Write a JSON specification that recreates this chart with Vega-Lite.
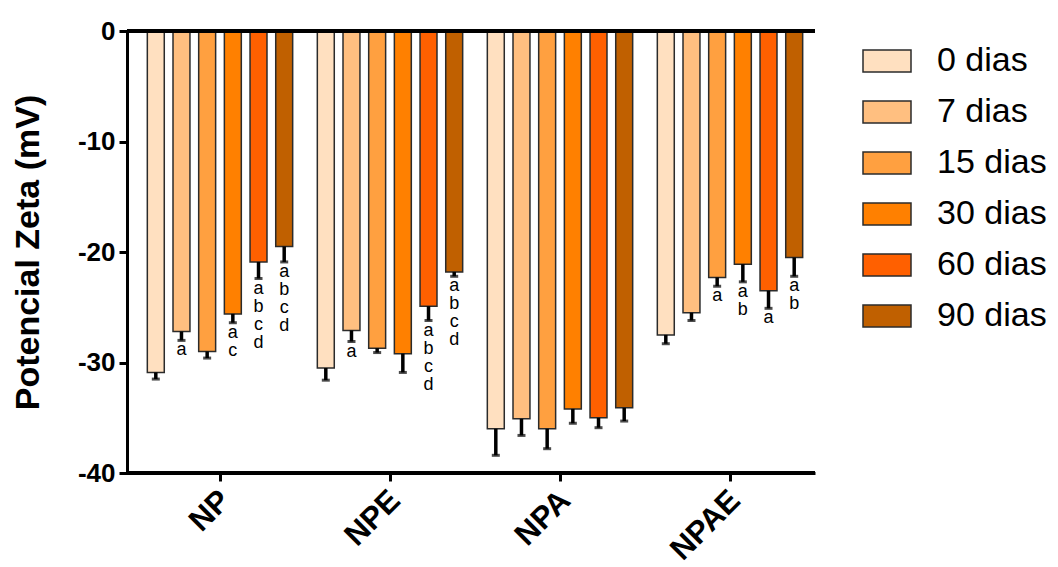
{
  "$schema": "https://vega.github.io/schema/vega-lite/v6.json",
  "autosize": {"type": "none"},
  "padding": {"left": 127, "top": 31, "right": 243, "bottom": 94},
  "width": 688,
  "height": 442,
  "background": "white",
  "config": {
    "font": "Liberation Sans",
    "view": {"stroke": null},
    "axis": {"grid": false, "domainColor": "black", "domainWidth": 3, "tickColor": "black", "tickWidth": 3, "tickSize": 8, "labelColor": "black", "titleColor": "black"}
  },
  "data": {
    "values": [
      {"grupo": "NP", "dia": "0 dias", "zeta": -30.9, "low": -31.5, "sig": ""},
      {"grupo": "NP", "dia": "7 dias", "zeta": -27.2, "low": -28.0, "sig": "a"},
      {"grupo": "NP", "dia": "15 dias", "zeta": -29.0, "low": -29.6, "sig": ""},
      {"grupo": "NP", "dia": "30 dias", "zeta": -25.6, "low": -26.4, "sig": "a\nc"},
      {"grupo": "NP", "dia": "60 dias", "zeta": -20.9, "low": -22.4, "sig": "a\nb\nc\nd"},
      {"grupo": "NP", "dia": "90 dias", "zeta": -19.5, "low": -20.9, "sig": "a\nb\nc\nd"},
      {"grupo": "NPE", "dia": "0 dias", "zeta": -30.5, "low": -31.6, "sig": ""},
      {"grupo": "NPE", "dia": "7 dias", "zeta": -27.1, "low": -28.1, "sig": "a"},
      {"grupo": "NPE", "dia": "15 dias", "zeta": -28.7, "low": -29.1, "sig": ""},
      {"grupo": "NPE", "dia": "30 dias", "zeta": -29.2, "low": -30.9, "sig": ""},
      {"grupo": "NPE", "dia": "60 dias", "zeta": -24.9, "low": -26.2, "sig": "a\nb\nc\nd"},
      {"grupo": "NPE", "dia": "90 dias", "zeta": -21.8, "low": -22.2, "sig": "a\nb\nc\nd"},
      {"grupo": "NPA", "dia": "0 dias", "zeta": -36.0, "low": -38.4, "sig": ""},
      {"grupo": "NPA", "dia": "7 dias", "zeta": -35.1, "low": -36.6, "sig": ""},
      {"grupo": "NPA", "dia": "15 dias", "zeta": -36.0, "low": -37.8, "sig": ""},
      {"grupo": "NPA", "dia": "30 dias", "zeta": -34.2, "low": -35.5, "sig": ""},
      {"grupo": "NPA", "dia": "60 dias", "zeta": -35.0, "low": -35.9, "sig": ""},
      {"grupo": "NPA", "dia": "90 dias", "zeta": -34.1, "low": -35.3, "sig": ""},
      {"grupo": "NPAE", "dia": "0 dias", "zeta": -27.5, "low": -28.3, "sig": ""},
      {"grupo": "NPAE", "dia": "7 dias", "zeta": -25.5, "low": -26.2, "sig": ""},
      {"grupo": "NPAE", "dia": "15 dias", "zeta": -22.3, "low": -23.1, "sig": "a"},
      {"grupo": "NPAE", "dia": "30 dias", "zeta": -21.1, "low": -22.7, "sig": "a\nb"},
      {"grupo": "NPAE", "dia": "60 dias", "zeta": -23.5, "low": -25.1, "sig": "a"},
      {"grupo": "NPAE", "dia": "90 dias", "zeta": -20.5, "low": -22.2, "sig": "a\nb"}
    ]
  },
  "layer": [
    {
      "layer": [
        {
          "mark": {"type": "bar", "stroke": "#2b2b2b", "strokeWidth": 1.5},
          "encoding": {
            "y": {
              "field": "zeta", "type": "quantitative",
              "scale": {"domain": [-40, 0], "nice": false, "zero": false},
              "axis": {"title": "Potencial Zeta (mV)", "titleFontSize": 34, "titleFontWeight": "bold", "titlePadding": 32, "values": [0, -10, -20, -30, -40], "labelExpr": "datum.value + ''", "labelFontWeight": "bold", "labelFontSize": 26, "labelPadding": 4}
            },
            "fill": {
              "field": "dia", "type": "nominal",
              "sort": ["0 dias", "7 dias", "15 dias", "30 dias", "60 dias", "90 dias"],
              "scale": {"range": ["#FFE0C0", "#FFBF80", "#FFA040", "#FF8000", "#FF6000", "#C06000"]},
              "legend": {
                "title": null, "orient": "right", "offset": 42, "padding": 5,
                "symbolType": "M-1,-0.46L1,-0.46L1,0.46L-1,0.46Z", "symbolSize": 2304,
                "symbolStrokeColor": "#2b2b2b", "symbolStrokeWidth": 1.5, "symbolOpacity": 1,
                "labelFontSize": 34, "labelColor": "black", "labelOffset": 25, "rowPadding": 9, "labelLimit": 300
              }
            }
          }
        },
        {
          "mark": {"type": "rule", "color": "black", "strokeWidth": 3.5},
          "encoding": {
            "y": {"field": "zeta", "type": "quantitative"},
            "y2": {"field": "low"}
          }
        },
        {
          "mark": {"type": "tick", "color": "black", "orient": "horizontal", "size": 8, "thickness": 3},
          "encoding": {"y": {"field": "low", "type": "quantitative"}}
        },
        {
          "mark": {"type": "text", "baseline": "top", "align": "center", "dy": 1, "fontSize": 18, "lineHeight": 18, "lineBreak": "\n", "color": "black"},
          "encoding": {
            "y": {"field": "low", "type": "quantitative"},
            "text": {"field": "sig"}
          }
        }
      ],
      "encoding": {
        "x": {
          "field": "grupo", "type": "nominal", "sort": ["NP", "NPE", "NPA", "NPAE"],
          "scale": {"range": [8, 688], "paddingInner": 0, "paddingOuter": 0},
          "axis": {"title": null, "labelAngle": -45, "labelFontWeight": "bold", "labelFontSize": 31, "labelPadding": 4, "labelOffset": -5}
        },
        "xOffset": {
          "field": "dia", "type": "nominal",
          "sort": ["0 dias", "7 dias", "15 dias", "30 dias", "60 dias", "90 dias"],
          "scale": {"paddingInner": 0.34, "paddingOuter": 0.48}
        }
      }
    },
    {
      "mark": {"type": "rule", "color": "black", "strokeWidth": 3},
      "encoding": {"y": {"datum": 0}}
    },
    {
      "mark": {"type": "rule", "color": "black", "strokeWidth": 3},
      "encoding": {"y": {"datum": -40}}
    }
  ]
}
